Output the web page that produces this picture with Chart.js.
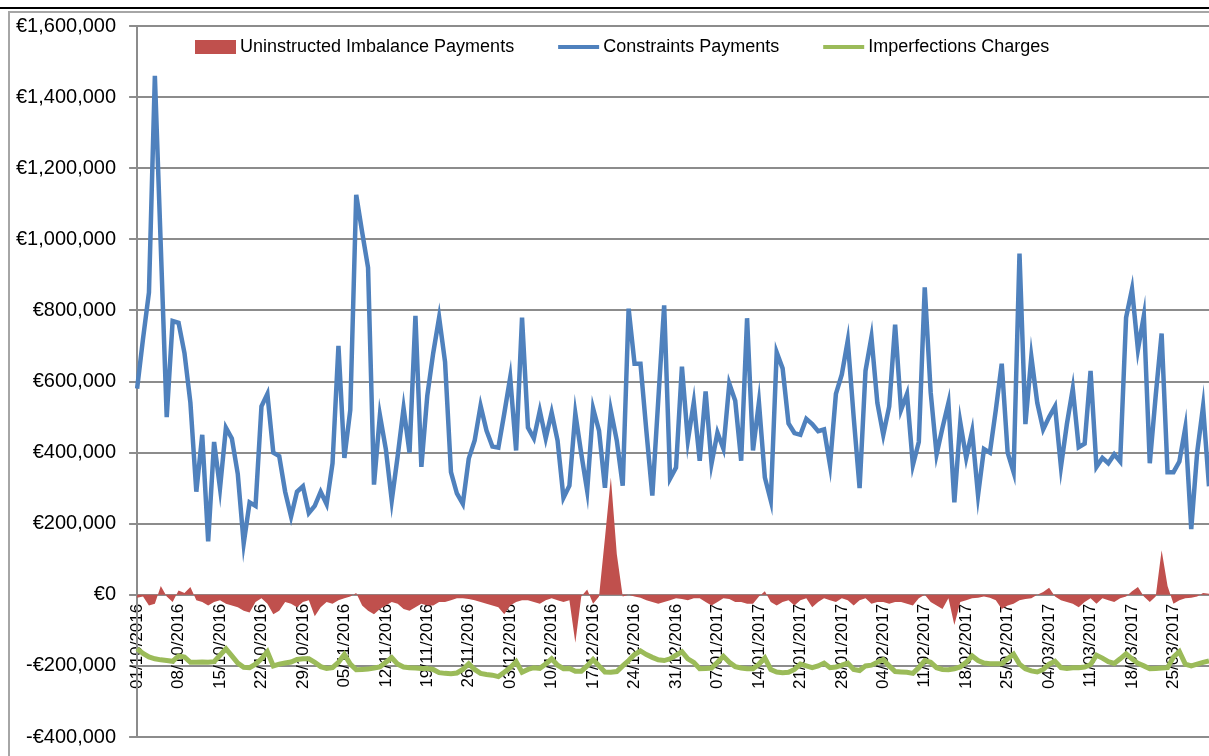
<!DOCTYPE html>
<html>
<head>
<meta charset="utf-8">
<title>Balancing payments Oct 2016 - Mar 2017</title>
<script src="https://cdn.jsdelivr.net/npm/chart.js@4.4.1/dist/chart.umd.min.js"></script>
<style>
  body { margin: 0; background: #fff; }
  #wrap { position: relative; width: 1209px; height: 756px; overflow: hidden; }
  #topline { position: absolute; left: 0; top: 7px; width: 1209px; height: 2px; background: #000; }
  #frame { position: absolute; left: 8px; top: 11px; width: 1230px; height: 780px; border-left: 2px solid #a6a6a6; border-top: 2px solid #a6a6a6; }
  canvas { position: absolute; left: 0; top: 0; }
</style>
</head>
<body>
<div id="wrap">
  <div id="topline"></div>
  <div id="frame"></div>
  <!-- a little taller than the window: the picture is cut just under the lowest label -->
  <canvas id="chart" width="1209" height="762"></canvas>
</div>
<script>
// one point per day, 01/10/2016 .. 31/03/2017
const firstDay = Date.UTC(2016, 9, 1);
const dayCount = 182;
const days = [];
for (let i = 0; i < dayCount; i++) {
  const d = new Date(firstDay + i * 86400000);
  days.push(String(d.getUTCDate()).padStart(2, '0') + '/' + String(d.getUTCMonth() + 1).padStart(2, '0') + '/' + d.getUTCFullYear());
}

const seriesNames = ['Uninstructed Imbalance Payments', 'Constraints Payments', 'Imperfections Charges'];

const imbalancePayments = [
  -8000, -5000, -30000, -25000, 25000, -5000, -20000, 12000, 5000, 22000,
  -15000, -20000, -30000, -20000, -15000, -25000, -30000, -35000, -45000, -50000,
  -20000, -10000, -25000, -55000, -45000, -20000, -25000, -35000, -20000, -15000,
  -60000, -35000, -20000, -25000, -15000, -10000, -5000, 5000, -30000, -45000,
  -55000, -40000, -30000, -20000, -25000, -40000, -45000, -35000, -25000, -30000,
  -30000, -20000, -20000, -15000, -10000, -10000, -12000, -15000, -20000, -25000,
  -30000, -35000, -55000, -30000, -20000, -15000, -15000, -20000, -25000, -15000,
  -10000, -15000, -20000, -15000, -135000, -5000, 15000, -25000, -5000, 160000,
  330000, 115000, -5000, 0, -5000, -8000, -15000, -20000, -25000, -20000,
  -15000, -10000, -12000, -15000, -10000, -10000, -20000, -30000, -20000, -10000,
  -12000, -20000, -20000, -25000, -25000, -5000, 10000, -20000, -30000, -20000,
  -15000, -30000, -15000, -10000, -35000, -20000, -10000, -15000, -20000, -10000,
  -15000, -30000, -15000, -10000, -25000, -20000, -20000, -25000, -20000, -20000,
  -25000, -30000, -10000, 0, -20000, -30000, -40000, -10000, -85000, -20000,
  -15000, -10000, -8000, -5000, -8000, -15000, -40000, -30000, -25000, -15000,
  -12000, -10000, 0, 8000, 20000, -5000, -15000, -20000, -25000, -35000,
  -20000, -10000, -25000, -10000, -15000, -20000, -10000, -5000, 10000, 22000,
  -5000, -20000, -5000, 125000, 25000, -25000, -15000, -10000, -8000, -5000,
  5000, 3000
];

const constraintsPayments = [
  580000, 720000, 850000, 1460000, 980000, 500000, 770000, 765000, 680000, 540000,
  290000, 450000, 150000, 430000, 300000, 470000, 440000, 340000, 145000, 260000,
  250000, 530000, 565000, 400000, 390000, 290000, 220000, 290000, 305000, 230000,
  250000, 290000, 255000, 370000, 700000, 385000, 520000, 1125000, 1020000, 920000,
  310000, 505000, 410000, 265000, 390000, 525000, 400000, 785000, 360000, 560000,
  680000, 780000, 655000, 345000, 285000, 256000, 383000, 434000, 532000, 462000,
  417000, 414000, 510000, 611000, 406000, 780000, 470000, 440000, 518000, 440000,
  513000, 434000, 273000, 307000, 510000, 397000, 293000, 524000, 462000, 301000,
  518000, 434000, 307000, 805000, 650000, 650000, 460000, 279000, 546000, 814000,
  327000, 358000, 642000, 434000, 541000, 377000, 572000, 369000, 456000, 411000,
  594000, 546000, 377000, 778000, 406000, 541000, 330000, 265000, 682000, 637000,
  482000, 455000, 450000, 495000, 480000, 460000, 465000, 365000, 565000, 620000,
  715000, 500000, 300000, 630000, 725000, 540000, 450000, 530000, 760000, 520000,
  565000, 365000, 430000, 865000, 570000, 395000, 470000, 540000, 260000, 485000,
  385000, 460000, 280000, 410000, 400000, 520000, 650000, 400000, 345000, 960000,
  480000, 670000, 540000, 465000, 500000, 530000, 360000, 480000, 580000, 415000,
  425000, 630000, 360000, 385000, 370000, 395000, 375000, 780000, 860000, 690000,
  785000, 370000, 560000, 735000, 345000, 345000, 375000, 470000, 185000, 400000,
  530000, 305000
];

const imperfectionsCharges = [
  -152000, -165000, -175000, -180000, -183000, -185000, -187000, -172000, -175000, -190000,
  -190000, -189000, -190000, -188000, -170000, -152000, -172000, -192000, -204000, -205000,
  -195000, -180000, -160000, -200000, -195000, -192000, -189000, -182000, -180000, -180000,
  -190000, -202000, -207000, -205000, -190000, -168000, -195000, -211000, -210000, -209000,
  -206000, -203000, -190000, -177000, -195000, -203000, -205000, -206000, -207000, -207000,
  -210000, -219000, -221000, -222000, -220000, -210000, -194000, -210000, -221000, -224000,
  -226000, -230000, -218000, -205000, -188000, -218000, -210000, -205000, -207000, -195000,
  -180000, -198000, -208000, -207000, -215000, -215000, -200000, -182000, -200000, -217000,
  -218000, -216000, -200000, -185000, -168000, -158000, -168000, -176000, -183000, -185000,
  -180000, -170000, -160000, -180000, -190000, -208000, -207000, -206000, -190000, -173000,
  -190000, -202000, -206000, -208000, -208000, -195000, -178000, -210000, -217000, -219000,
  -218000, -210000, -195000, -200000, -205000, -200000, -192000, -205000, -203000, -198000,
  -192000, -210000, -213000, -200000, -198000, -190000, -182000, -200000, -216000, -217000,
  -218000, -221000, -205000, -185000, -190000, -205000, -210000, -211000, -208000, -203000,
  -190000, -172000, -185000, -192000, -194000, -194000, -194000, -180000, -167000, -195000,
  -208000, -214000, -217000, -210000, -195000, -187000, -205000, -207000, -205000, -205000,
  -203000, -196000, -170000, -178000, -188000, -193000, -180000, -166000, -180000, -193000,
  -200000, -208000, -207000, -206000, -205000, -175000, -160000, -195000, -200000, -195000,
  -190000, -186000
];

function euro(v) {
  const s = Math.abs(v).toString().replace(/\B(?=(\d{3})+(?!\d))/g, ',');
  return (v < 0 ? '-€' : '€') + s;
}

// excel style legend sitting inside the plot
const sheetLegend = {
  id: 'sheetLegend',
  afterDraw(chart) {
    const ctx = chart.ctx;
    ctx.save();
    ctx.font = '18px "Liberation Sans"';
    ctx.textBaseline = 'middle';
    let x = 195;
    const y = 47;
    chart.data.datasets.forEach(ds => {
      if (ds.fill) {
        ctx.fillStyle = ds.backgroundColor;
        ctx.fillRect(x, y - 7, 41, 14);
      } else {
        ctx.strokeStyle = ds.borderColor;
        ctx.lineWidth = 4;
        ctx.beginPath();
        ctx.moveTo(x, y);
        ctx.lineTo(x + 41, y);
        ctx.stroke();
      }
      x += 45;
      ctx.fillStyle = '#000';
      ctx.fillText(ds.label, x, y);
      x += ctx.measureText(ds.label).width + 44;
    });
    ctx.restore();
  }
};

const ctx = document.getElementById('chart').getContext('2d');
const chart = new Chart(ctx, {
  type: 'line',
  data: {
    labels: days,
    datasets: [{
      label: seriesNames[0],
      data: imbalancePayments,
      fill: 'origin',
      backgroundColor: '#C0504D',
      borderColor: '#C0504D',
      borderWidth: 0,
      pointRadius: 0,
      tension: 0,
      order: 3
    }, {
      label: seriesNames[1],
      data: constraintsPayments,
      fill: false,
      borderColor: '#4F81BD',
      borderWidth: 4.5,
      pointRadius: 0,
      tension: 0,
      order: 2
    }, {
      label: seriesNames[2],
      data: imperfectionsCharges,
      fill: false,
      borderColor: '#9BBB59',
      borderWidth: 5,
      pointRadius: 0,
      tension: 0,
      order: 1
    }]
  },
  options: {
    responsive: false,
    animation: false,
    layout: { padding: { left: 3, top: 26, right: 0, bottom: 14 } },
    plugins: {
      legend: { display: false },
      tooltip: { enabled: false }
    },
    scales: {
      x: {
        position: { y: 0 },
        z: 1,
        offset: false,
        border: { display: true, color: '#8c8c8c', width: 2 },
        grid: {
          drawOnChartArea: false,
          drawTicks: true,
          tickLength: 5,
          color: c => (c.index % 7 === 0 ? '#8c8c8c' : 'rgba(0,0,0,0)')
        },
        ticks: {
          autoSkip: false,
          minRotation: 90,
          maxRotation: 90,
          padding: 4,
          color: '#000',
          font: { family: 'Liberation Sans', size: 17 },
          callback: function(value, index) {
            return index % 7 === 0 ? days[index] : null;
          }
        }
      },
      y: {
        min: -400000,
        max: 1600000,
        border: { display: true, color: '#8c8c8c', width: 2 },
        grid: { color: '#8c8c8c', lineWidth: 2, tickLength: 8 },
        ticks: {
          stepSize: 200000,
          padding: 13,
          color: '#000',
          font: { family: 'Liberation Sans', size: 20 },
          callback: v => euro(v)
        }
      }
    }
  },
  plugins: [sheetLegend]
});
</script>
</body>
</html>
